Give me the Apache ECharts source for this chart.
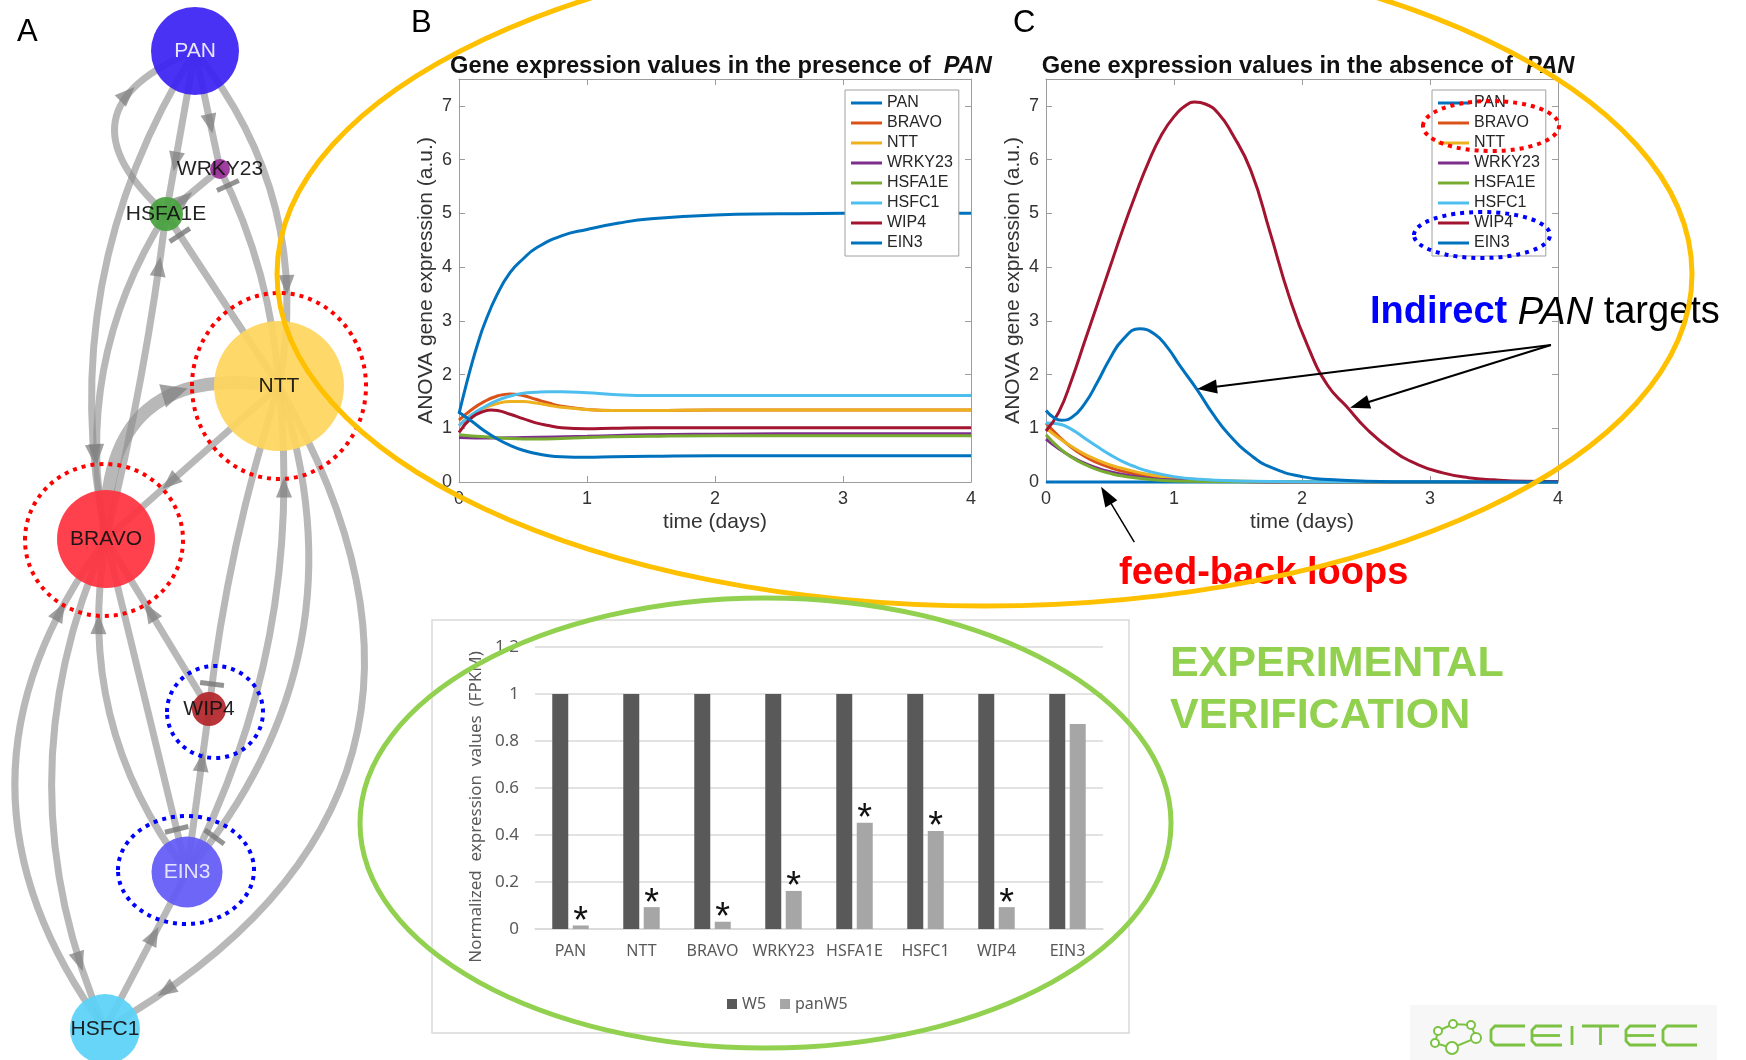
<!DOCTYPE html>
<html>
<head>
<meta charset="utf-8">
<title>PAN regulatory network</title>
<script src="https://cdn.jsdelivr.net/npm/echarts@6.0.0/dist/echarts.min.js"></script>
<style>
  html, body { margin: 0; padding: 0; background: #fff; }
  #fig { width: 1746px; height: 1060px; }
</style>
</head>
<body>
<div id="fig"></div>
<script>
// ---------------- model output (time in days, ANOVA expression in a.u.) ----------------
const genes = ['PAN', 'BRAVO', 'NTT', 'WRKY23', 'HSFA1E', 'HSFC1', 'WIP4', 'EIN3'];

// B: PAN present
const presPAN    = [[0,1.27],[0.05,1.75],[0.1,2.2],[0.15,2.6],[0.2,2.95],[0.3,3.5],[0.4,3.9],[0.5,4.15],[0.6,4.35],[0.8,4.58],[1.0,4.7],[1.25,4.82],[1.5,4.9],[2,4.97],[2.5,4.99],[3,5.0],[4,5.0]];
const presBRAVO  = [[0,1.15],[0.1,1.35],[0.2,1.5],[0.3,1.6],[0.4,1.64],[0.5,1.61],[0.6,1.54],[0.7,1.47],[0.8,1.41],[1.0,1.35],[1.2,1.33],[1.5,1.33],[2,1.34],[4,1.34]];
const presNTT    = [[0,1.05],[0.1,1.25],[0.2,1.38],[0.3,1.46],[0.4,1.5],[0.5,1.5],[0.6,1.47],[0.7,1.43],[0.8,1.39],[1.0,1.35],[1.2,1.33],[1.5,1.33],[2,1.34],[4,1.34]];
const presWRKY23 = [[0,0.83],[0.25,0.82],[0.5,0.83],[1,0.85],[1.5,0.88],[2,0.89],[3,0.9],[4,0.9]];
const presHSFA1E = [[0,0.88],[0.2,0.84],[0.4,0.81],[0.6,0.8],[0.8,0.81],[1,0.83],[1.5,0.85],[2,0.86],[3,0.86],[4,0.86]];
const presHSFC1  = [[0,1.05],[0.1,1.25],[0.2,1.4],[0.3,1.52],[0.4,1.6],[0.5,1.65],[0.6,1.67],[0.7,1.68],[0.8,1.68],[1.0,1.66],[1.2,1.63],[1.5,1.61],[2,1.61],[4,1.61]];
const presWIP4   = [[0,0.92],[0.1,1.2],[0.2,1.32],[0.25,1.34],[0.3,1.33],[0.4,1.26],[0.5,1.18],[0.6,1.1],[0.7,1.05],[0.8,1.01],[1.0,0.99],[1.2,1.0],[1.5,1.01],[2,1.01],[4,1.01]];
const presEIN3   = [[0,1.3],[0.1,1.13],[0.2,0.95],[0.3,0.8],[0.4,0.68],[0.5,0.59],[0.6,0.53],[0.7,0.49],[0.8,0.47],[1.0,0.46],[1.2,0.47],[1.5,0.48],[2,0.49],[4,0.49]];

// C: PAN absent
const absPAN    = [[0,0],[1,0],[2,0],[3,0],[4,0]];
const absBRAVO  = [[0,1.1],[0.1,0.85],[0.2,0.64],[0.3,0.48],[0.4,0.36],[0.5,0.27],[0.6,0.2],[0.8,0.11],[1.0,0.06],[1.3,0.02],[2,0.002],[4,0]];
const absNTT    = [[0,1.0],[0.1,0.82],[0.2,0.66],[0.3,0.52],[0.4,0.41],[0.5,0.32],[0.6,0.25],[0.8,0.14],[1.0,0.08],[1.3,0.03],[2,0.003],[4,0]];
const absWRKY23 = [[0,0.8],[0.1,0.62],[0.2,0.47],[0.3,0.35],[0.4,0.26],[0.5,0.19],[0.6,0.14],[0.8,0.07],[1.0,0.035],[1.5,0.008],[2,0.001],[4,0]];
const absHSFA1E = [[0,0.88],[0.1,0.64],[0.2,0.46],[0.3,0.33],[0.4,0.23],[0.5,0.16],[0.6,0.11],[0.8,0.05],[1.0,0.02],[1.5,0.004],[4,0]];
const absHSFC1  = [[0,1.1],[0.1,1.08],[0.2,0.98],[0.3,0.82],[0.4,0.66],[0.5,0.51],[0.6,0.38],[0.7,0.28],[0.8,0.2],[1.0,0.1],[1.2,0.05],[1.5,0.02],[2,0.005],[4,0]];
const absWIP4   = [[0,0.95],[0.1,1.3],[0.2,1.9],[0.3,2.6],[0.4,3.3],[0.5,4.0],[0.6,4.7],[0.7,5.35],[0.8,5.95],[0.9,6.45],[1.0,6.8],[1.1,7.02],[1.16,7.07],[1.25,7.03],[1.35,6.85],[1.45,6.5],[1.6,5.8],[1.75,4.65],[1.9,3.45],[2.05,2.5],[2.2,1.8],[2.35,1.4],[2.5,1.0],[2.7,0.6],[2.9,0.33],[3.1,0.17],[3.3,0.08],[3.5,0.04],[3.75,0.015],[4,0.01]];
const absEIN3   = [[0,1.33],[0.06,1.2],[0.12,1.15],[0.2,1.2],[0.3,1.45],[0.4,1.85],[0.5,2.3],[0.6,2.65],[0.73,2.85],[0.85,2.75],[0.95,2.5],[1.05,2.15],[1.18,1.72],[1.3,1.28],[1.43,0.88],[1.6,0.5],[1.75,0.28],[2.0,0.1],[2.25,0.04],[2.5,0.015],[3,0.003],[4,0]];

const withPAN    = [presPAN, presBRAVO, presNTT, presWRKY23, presHSFA1E, presHSFC1, presWIP4, presEIN3];
const withoutPAN = [absPAN, absBRAVO, absNTT, absWRKY23, absHSFA1E, absHSFC1, absWIP4, absEIN3];

const timeMax = 4;      // days
const exprMax = 7.5;    // a.u.

// ---------------- RNA-seq verification ----------------
const verifyGenes = ['PAN', 'NTT', 'BRAVO', 'WRKY23', 'HSFA1E', 'HSFC1', 'WIP4', 'EIN3'];
const w5          = [1, 1, 1, 1, 1, 1, 1, 1];
const panW5       = [0.015, 0.093, 0.031, 0.162, 0.452, 0.417, 0.093, 0.872];
const significant = [true, true, true, true, true, true, true, false];

// ---------------- regulatory network ----------------
const interactions = [
  ['HSFA1E', 'PAN', 'act'],
  ['PAN', 'BRAVO', 'act'],
  ['PAN', 'HSFA1E', 'act'],
  ['PAN', 'WRKY23', 'act'],
  ['PAN', 'NTT', 'act'],
  ['NTT', 'WRKY23', 'inh'],
  ['HSFA1E', 'WRKY23', 'act'],
  ['NTT', 'HSFA1E', 'inh'],
  ['BRAVO', 'HSFA1E', 'act'],
  ['HSFA1E', 'BRAVO', 'act'],
  ['BRAVO', 'NTT', 'act'],
  ['NTT', 'BRAVO', 'act'],
  ['NTT', 'WIP4', 'inh'],
  ['EIN3', 'NTT', 'act'],
  ['NTT', 'EIN3', 'inh'],
  ['NTT', 'HSFC1', 'act'],
  ['BRAVO', 'HSFC1', 'act'],
  ['HSFC1', 'BRAVO', 'act'],
  ['EIN3', 'BRAVO', 'act'],
  ['BRAVO', 'EIN3', 'inh'],
  ['WIP4', 'BRAVO', 'act'],
  ['EIN3', 'WIP4', 'act'],
  ['HSFC1', 'EIN3', 'act']
];

// layout of the network drawing (page pixels)
const nodeLayout = {
  PAN: [195, 51], WRKY23: [220, 169], HSFA1E: [166, 214], NTT: [279, 386],
  BRAVO: [106, 539], WIP4: [209, 709], EIN3: [187, 872], HSFC1: [105, 1029]
};
const nodeLook = {
  PAN:    { size: 88,  fill: '#3b22f2', text: '#f2f2ff' },
  WRKY23: { size: 20,  fill: '#9a2f9a', text: '#111' },
  HSFA1E: { size: 34,  fill: '#48a33e', text: '#111' },
  NTT:    { size: 130, fill: '#fed65e', text: '#111' },
  BRAVO:  { size: 98,  fill: '#ff3340', text: '#111' },
  WIP4:   { size: 34,  fill: '#b3262b', text: '#111' },
  EIN3:   { size: 71,  fill: '#635af5', text: '#ececff' },
  HSFC1:  { size: 70,  fill: '#5ad2f6', text: '#111' }
};
const edgeBend  = [0.8, -0.2, 0, 0, 0.23, -0.1, 0, 0, -0.03, -0.2, 0.6, 0, -0.05, -0.15, 0.28, 0.5, -0.22, 0.37, 0.22, 0, 0, 0, 0];
const edgeWidth = [7, 7, 7, 7, 7, 7, 7, 7, 7, 7, 13, 7, 7, 7, 7, 7, 7, 7, 7, 7, 7, 7, 7];
const highlightRings = [
  { node: 'NTT',   dx: 0,  dy: 0,  rx: 87, ry: 93, color: '#ff0000' },
  { node: 'BRAVO', dx: -2, dy: 1,  rx: 79, ry: 76, color: '#ff0000' },
  { node: 'WIP4',  dx: 6,  dy: 3,  rx: 48, ry: 46, color: '#0000ff' },
  { node: 'EIN3',  dx: -1, dy: -2, rx: 68, ry: 54, color: '#0000ff' }
];

// callout arrows drawn in panel C data space
const pointerArrows = [
  { from: [3.945, 2.55], to: [1.18, 1.73], width: 2 },
  { from: [3.945, 2.55], to: [2.375, 1.38], width: 2 },
  { from: [0.69, -1.12], to: [0.43, -0.09], width: 1.5 }
];

const FONT = '"Liberation Sans", Arial, Helvetica, sans-serif';
const XLFONT = '"Noto Sans", "Open Sans", sans-serif';
const geneColors = ['#0072BD', '#D95319', '#EDB120', '#7E2F8E', '#77AC30', '#4DBEEE', '#A2142F', '#0072BD'];
const AXIS_GREY = '#9c9c9c';
const INK = '#333333';

// ---------------- helpers ----------------
function timeAxis(gridIndex, position, main) {
  return {
    type: 'value', gridIndex, position, min: 0, max: timeMax, interval: 1,
    axisLine: { show: true, onZero: false, lineStyle: { color: AXIS_GREY, width: 1 } },
    axisTick: { show: true, inside: true, length: 6, lineStyle: { color: AXIS_GREY } },
    axisLabel: { show: main, color: INK, fontSize: 18, margin: 8, fontFamily: FONT },
    splitLine: { show: false },
    name: main ? 'time (days)' : '', nameLocation: 'middle', nameGap: 30,
    nameTextStyle: { fontSize: 21, color: INK, fontFamily: FONT }
  };
}
function exprAxis(gridIndex, position, main) {
  return {
    type: 'value', gridIndex, position, min: 0, max: exprMax, interval: 1,
    axisLine: { show: true, onZero: false, lineStyle: { color: AXIS_GREY, width: 1 } },
    axisTick: { show: true, inside: true, length: 6, lineStyle: { color: AXIS_GREY } },
    axisLabel: { show: main, color: INK, fontSize: 18, margin: 7, fontFamily: FONT,
                 formatter: v => (Number.isInteger(v) ? String(v) : '') },
    splitLine: { show: false },
    name: main ? 'ANOVA gene expression (a.u.)' : '', nameLocation: 'middle', nameGap: 22,
    nameTextStyle: { fontSize: 21, color: INK, fontFamily: FONT }
  };
}
function geneLegend(left) {
  return {
    data: genes, orient: 'vertical', left, top: 90, icon: 'rect',
    itemWidth: 31, itemHeight: 3, itemGap: 4, padding: [5, 6, 5, 6],
    borderColor: '#a0a0a0', borderWidth: 1, backgroundColor: '#fff',
    selectedMode: false,
    textStyle: { fontSize: 16, color: '#262626', fontFamily: FONT }
  };
}

// quadratic edge geometry, same control-point rule as ECharts curveness
function edgeGeom(api, i) {
  const e = interactions[i];
  const p1 = api.coord(nodeLayout[e[0]]);
  const p2 = api.coord(nodeLayout[e[1]]);
  const c = edgeBend[i];
  const cp = [(p1[0] + p2[0]) / 2 - (p1[1] - p2[1]) * c, (p1[1] + p2[1]) / 2 - (p2[0] - p1[0]) * c];
  return { p1, p2, cp };
}
function bez(g, t) {
  const u = 1 - t;
  return [u * u * g.p1[0] + 2 * u * t * g.cp[0] + t * t * g.p2[0],
          u * u * g.p1[1] + 2 * u * t * g.cp[1] + t * t * g.p2[1]];
}
function bezTan(g, t) {
  const v = [2 * (1 - t) * (g.cp[0] - g.p1[0]) + 2 * t * (g.p2[0] - g.cp[0]),
             2 * (1 - t) * (g.cp[1] - g.p1[1]) + 2 * t * (g.p2[1] - g.cp[1])];
  const l = Math.hypot(v[0], v[1]) || 1;
  return [v[0] / l, v[1] / l];
}
function tAtDistance(g, d) {
  let t = 1;
  while (t > 0) {
    const p = bez(g, t);
    if (Math.hypot(p[0] - g.p2[0], p[1] - g.p2[1]) >= d) break;
    t -= 0.002;
  }
  return t;
}

function renderEdge(params, api) {
  const i = params.dataIndex;
  const e = interactions[i];
  const g = edgeGeom(api, i);
  const r = nodeLook[e[1]].size / 2;
  const w = edgeWidth[i];
  const children = [{
    type: 'bezierCurve',
    shape: { x1: g.p1[0], y1: g.p1[1], x2: g.p2[0], y2: g.p2[1], cpx1: g.cp[0], cpy1: g.cp[1] },
    style: { stroke: 'rgba(140,140,140,0.62)', lineWidth: w, fill: 'none' }
  }];
  if (e[2] === 'act') {
    const L = w > 8 ? 26 : 20, W = w > 8 ? 24 : 16;
    const t = tAtDistance(g, r + 26);
    const tip = bez(g, t);
    const u = bezTan(g, t);
    const n = [-u[1], u[0]];
    const b = [tip[0] - u[0] * L, tip[1] - u[1] * L];
    children.push({
      type: 'polygon',
      shape: { points: [tip, [b[0] + n[0] * W / 2, b[1] + n[1] * W / 2], [b[0] - n[0] * W / 2, b[1] - n[1] * W / 2]] },
      style: { fill: 'rgba(130,130,130,0.75)' }
    });
  } else {
    const t = tAtDistance(g, r + 8);
    const p = bez(g, t);
    const u = bezTan(g, t);
    const n = [-u[1], u[0]];
    children.push({
      type: 'line',
      shape: { x1: p[0] + n[0] * 12, y1: p[1] + n[1] * 12, x2: p[0] - n[0] * 12, y2: p[1] - n[1] * 12 },
      style: { stroke: 'rgba(120,120,120,0.8)', lineWidth: 5 }
    });
  }
  return { type: 'group', children };
}

function renderRing(params, api) {
  const h = highlightRings[params.dataIndex];
  const c = api.coord(nodeLayout[h.node]);
  return {
    type: 'ellipse',
    shape: { cx: c[0] + h.dx, cy: c[1] + h.dy, rx: h.rx, ry: h.ry },
    style: { fill: 'none', stroke: h.color, lineWidth: 4, lineDash: [4, 5] }
  };
}

function renderPointer(params, api) {
  const a = pointerArrows[params.dataIndex];
  const s = api.coord(a.from), e = api.coord(a.to);
  const dx = e[0] - s[0], dy = e[1] - s[1], len = Math.hypot(dx, dy);
  const ux = dx / len, uy = dy / len, nx = -uy, ny = ux;
  const L = 20, W = 14;
  const bx = e[0] - ux * L, by = e[1] - uy * L;
  return {
    type: 'group', children: [
      { type: 'line', shape: { x1: s[0], y1: s[1], x2: bx + ux * 3, y2: by + uy * 3 }, style: { stroke: '#000', lineWidth: a.width } },
      { type: 'polygon', shape: { points: [[e[0], e[1]], [bx + nx * W / 2, by + ny * W / 2], [bx - nx * W / 2, by - ny * W / 2]] }, style: { fill: '#000' } }
    ]
  };
}

// ---------------- series ----------------
const series = [];
genes.forEach((g, i) => {
  series.push({
    type: 'line', name: g, xAxisIndex: 0, yAxisIndex: 0, data: withPAN[i],
    showSymbol: false, smooth: 0.5, clip: false, silent: true,
    lineStyle: { color: geneColors[i], width: 3 }, itemStyle: { color: geneColors[i] }
  });
});
genes.forEach((g, i) => {
  series.push({
    type: 'line', name: g, xAxisIndex: 2, yAxisIndex: 2, data: withoutPAN[i],
    showSymbol: false, smooth: 0.5, clip: false, silent: true,
    lineStyle: { color: geneColors[i], width: 3 }, itemStyle: { color: geneColors[i] }
  });
});
series.push({
  type: 'custom', name: 'pointers', xAxisIndex: 2, yAxisIndex: 2, silent: true, z: 10,
  data: pointerArrows.map((a, i) => [i, 0]), renderItem: renderPointer
});
series.push({
  type: 'bar', name: 'W5', xAxisIndex: 4, yAxisIndex: 4, data: w5,
  barWidth: 16, barGap: '28%', silent: true, itemStyle: { color: '#595959' }
});
series.push({
  type: 'bar', name: 'panW5', xAxisIndex: 4, yAxisIndex: 4, data: panW5,
  barWidth: 16, silent: true, itemStyle: { color: '#a6a6a6' },
  label: {
    show: true, position: 'top', distance: 0, offset: [0, 16],
    formatter: p => (significant[p.dataIndex] ? '*' : ''),
    fontSize: 38, color: '#111', fontFamily: FONT
  }
});
series.push({
  type: 'custom', name: 'edges', xAxisIndex: 5, yAxisIndex: 5, silent: true, z: 2,
  data: interactions.map((e, i) => [i, 0]), renderItem: renderEdge
});
series.push({
  type: 'scatter', name: 'genes', xAxisIndex: 5, yAxisIndex: 5, silent: true, z: 3,
  data: Object.keys(nodeLayout).map(n => ({
    name: n, value: nodeLayout[n], symbolSize: nodeLook[n].size,
    itemStyle: { color: nodeLook[n].fill, opacity: 0.93 },
    label: { color: nodeLook[n].text }
  })),
  label: { show: true, position: 'inside', formatter: '{b}', fontSize: 21, fontFamily: FONT }
});
series.push({
  type: 'custom', name: 'rings', xAxisIndex: 5, yAxisIndex: 5, silent: true, z: 5,
  data: highlightRings.map((h, i) => [i, 0]), renderItem: renderRing
});

// ---------------- decorations ----------------
const LOGO_GREEN = '#7cc242';
const logoTop = 1026, logoBottom = 1045, logoMid = 1035.5;
function letterC(x0, w) {
  return { type: 'polyline', z: 20, shape: { points: [[x0 + w, logoTop], [x0 + 4, logoTop], [x0, logoTop + 4], [x0, logoBottom - 4], [x0 + 4, logoBottom], [x0 + w, logoBottom]] },
           style: { stroke: LOGO_GREEN, lineWidth: 2.8, fill: 'none' } };
}
function letterE(x0, w) {
  return [letterC(x0, w), { type: 'line', z: 20, shape: { x1: x0, y1: logoMid, x2: x0 + w - 2, y2: logoMid }, style: { stroke: LOGO_GREEN, lineWidth: 2.8 } }];
}
const logoRing = [[1438, 1031], [1453, 1024], [1471, 1025], [1476, 1038], [1452, 1048], [1435, 1043]];
const logoRadius = [4, 4, 4, 5, 6, 4];

const graphic = [
  { type: 'text', x: 17, y: 32, style: { text: 'A', font: '31px ' + FONT, fill: '#000', verticalAlign: 'middle' } },
  { type: 'text', x: 411, y: 23, style: { text: 'B', font: '31px ' + FONT, fill: '#000', verticalAlign: 'middle' } },
  { type: 'text', x: 1013, y: 23, style: { text: 'C', font: '31px ' + FONT, fill: '#000', verticalAlign: 'middle' } },
  { type: 'text', x: 1370, y: 313, z: 60,
    style: { text: '{a|Indirect} {b|PAN} {c|targets}', font: '38px ' + FONT, verticalAlign: 'middle',
      rich: { a: { fontSize: 38, fontWeight: 'bold', fontFamily: FONT, fill: '#0000ff' },
              b: { fontSize: 38, fontStyle: 'italic', fontFamily: FONT, fill: '#000' },
              c: { fontSize: 38, fontFamily: FONT, fill: '#000' } } } },
  { type: 'text', x: 1119, y: 574, z: 60, style: { text: 'feed-back loops', font: 'bold 38px ' + FONT, fill: '#ff0000', verticalAlign: 'middle' } },
  { type: 'text', x: 1170, y: 664, z: 60, style: { text: 'EXPERIMENTAL', font: 'bold 43px ' + FONT, fill: '#92d050', verticalAlign: 'middle' } },
  { type: 'text', x: 1170, y: 716, z: 60, style: { text: 'VERIFICATION', font: 'bold 43px ' + FONT, fill: '#92d050', verticalAlign: 'middle' } },
  { type: 'rect', z: 0, shape: { x: 432, y: 620, width: 697, height: 413 }, style: { fill: 'none', stroke: '#d9d9d9', lineWidth: 1.5 } },
  { type: 'ellipse', z: 100, shape: { cx: 984.5, cy: 274, rx: 707.5, ry: 332 }, style: { fill: 'none', stroke: '#ffc000', lineWidth: 5 } },
  { type: 'ellipse', z: 100, shape: { cx: 765.5, cy: 823, rx: 405.5, ry: 225 }, style: { fill: 'none', stroke: '#92d050', lineWidth: 5 } },
  { type: 'ellipse', z: 100, shape: { cx: 1491, cy: 126, rx: 68, ry: 25 }, style: { fill: 'none', stroke: '#ff0000', lineWidth: 4, lineDash: [4, 5] } },
  { type: 'ellipse', z: 100, shape: { cx: 1482, cy: 235, rx: 68, ry: 23 }, style: { fill: 'none', stroke: '#0000ff', lineWidth: 4, lineDash: [4, 5] } },
  // institute logo
  { type: 'rect', z: 10, shape: { x: 1410, y: 1005, width: 307, height: 55 }, style: { fill: '#f7f7f7' } },
  { type: 'polygon', z: 20, shape: { points: logoRing }, style: { fill: 'none', stroke: LOGO_GREEN, lineWidth: 2 } },
  ...logoRing.map((p, i) => ({ type: 'circle', z: 21, shape: { cx: p[0], cy: p[1], r: logoRadius[i] }, style: { fill: '#fff', stroke: LOGO_GREEN, lineWidth: 2 } })),
  letterC(1491, 34),
  ...letterE(1532, 30),
  { type: 'line', z: 20, shape: { x1: 1572, y1: logoTop, x2: 1572, y2: logoBottom }, style: { stroke: LOGO_GREEN, lineWidth: 2.8 } },
  { type: 'line', z: 20, shape: { x1: 1582, y1: logoTop, x2: 1619, y2: logoTop }, style: { stroke: LOGO_GREEN, lineWidth: 2.8 } },
  { type: 'line', z: 20, shape: { x1: 1600.5, y1: logoTop, x2: 1600.5, y2: logoBottom }, style: { stroke: LOGO_GREEN, lineWidth: 2.8 } },
  ...letterE(1626, 30),
  letterC(1663, 34)
];

// ---------------- option ----------------
const titleRich = {
  n: { fontSize: 23.7, fontWeight: 'bold', color: '#111', fontFamily: FONT },
  i: { fontSize: 23.7, fontWeight: 'bold', fontStyle: 'italic', color: '#111', fontFamily: FONT }
};
const option = {
  animation: false,
  backgroundColor: '#fff',
  textStyle: { fontFamily: FONT },
  title: [
    { text: '{n|Gene expression values in the presence of  }{i|PAN}', left: 716, top: 49, textAlign: 'center',
      textStyle: { rich: titleRich } },
    { text: '{n|Gene expression values in the absence of  }{i|PAN}', left: 1303, top: 49, textAlign: 'center',
      textStyle: { rich: titleRich } }
  ],
  legend: [
    geneLegend(845),
    geneLegend(1432),
    { data: ['W5', 'panW5'], left: 722, top: 991, icon: 'rect', itemWidth: 10, itemHeight: 10, itemGap: 14,
      selectedMode: false, textStyle: { fontSize: 16, color: '#595959', fontFamily: XLFONT } }
  ],
  grid: [
    { left: 459, top: 79, width: 512, height: 403 },
    { left: 1046, top: 79, width: 512, height: 403 },
    { left: 535, top: 647, width: 568, height: 282 },
    { left: 0, top: 0, width: 1746, height: 1060 }
  ],
  xAxis: [
    timeAxis(0, 'bottom', true),
    timeAxis(0, 'top', false),
    timeAxis(1, 'bottom', true),
    timeAxis(1, 'top', false),
    { type: 'category', gridIndex: 2, data: verifyGenes,
      axisLine: { show: true, lineStyle: { color: '#d9d9d9', width: 1.5 } }, axisTick: { show: false },
      axisLabel: { color: '#595959', fontSize: 16, margin: 14, interval: 0, fontFamily: XLFONT } },
    { type: 'value', gridIndex: 3, min: 0, max: 1746, show: false }
  ],
  yAxis: [
    exprAxis(0, 'left', true),
    exprAxis(0, 'right', false),
    exprAxis(1, 'left', true),
    exprAxis(1, 'right', false),
    { type: 'value', gridIndex: 2, min: 0, max: 1.2, interval: 0.2,
      axisLine: { show: false }, axisTick: { show: false },
      splitLine: { lineStyle: { color: '#d9d9d9', width: 1.5 } },
      axisLabel: { color: '#595959', fontSize: 17, margin: 16, fontFamily: XLFONT },
      name: 'Normalized  expression  values  (FPKM)', nameLocation: 'middle', nameGap: 50,
      nameTextStyle: { color: '#595959', fontSize: 17, fontFamily: XLFONT, padding: [0, 38, 0, 0] } },
    { type: 'value', gridIndex: 3, min: 0, max: 1060, inverse: true, show: false }
  ],
  series,
  graphic
};

const chart = echarts.init(document.getElementById('fig'), null, { renderer: 'canvas' });
chart.setOption(option);
</script>
</body>
</html>
